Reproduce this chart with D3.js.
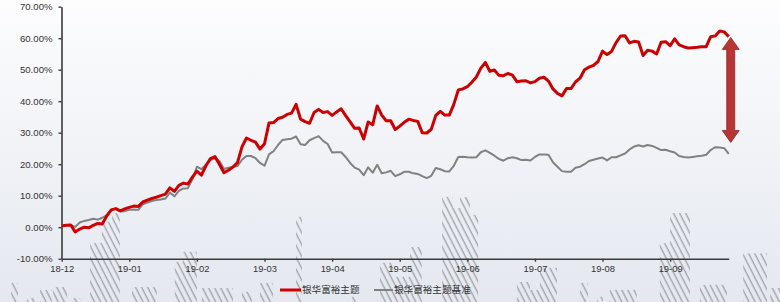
<!DOCTYPE html>
<html><head><meta charset="utf-8">
<script src="https://cdn.jsdelivr.net/npm/d3@7"></script>
<style>
html,body{margin:0;padding:0;background:#fff;}
svg{display:block;font-family:"Liberation Sans",Arial,sans-serif;}
</style></head>
<body><svg id="c" width="780" height="302"></svg>
<script>
// ---- data ----
const monthLabels = ["18-12","19-01","19-02","19-03","19-04","19-05","19-06","19-07","19-08","19-09"];
const pointsPerMonth = 15;
const seriesNames = ["银华富裕主题","银华富裕主题基准"];
const fundValues = [0.4,0.6,0.7,-1.5,-0.6,0.0,-0.2,0.6,1.2,1.0,3.6,5.5,5.9,5.2,5.8,6.3,6.7,6.6,8.0,8.6,
 9.1,9.5,10.0,10.5,12.5,11.4,13.3,14.0,13.7,15.9,17.8,16.5,19.5,21.8,22.4,20.0,17.3,18.1,19.1,20.5,
 25.5,28.3,27.6,27.0,24.8,26.5,33.1,33.2,34.5,34.9,35.8,36.2,39.0,34.3,33.5,33.0,36.4,37.4,36.4,36.7,
 35.5,36.6,37.6,35.4,33.4,31.4,31.5,28.0,33.4,32.5,38.5,35.6,33.8,33.8,31.0,32.1,33.3,34.3,33.9,33.6,
 30.0,29.9,31.1,35.5,36.8,35.6,35.6,39.0,43.6,43.9,44.6,46.0,47.7,50.5,52.3,49.5,49.9,48.2,48.1,48.8,
 48.3,46.2,46.4,46.5,45.8,46.2,47.3,47.6,46.4,43.9,42.5,41.7,44.0,44.0,46.1,47.3,50.0,50.8,51.4,52.6,
 55.9,54.8,55.8,58.6,60.7,60.8,58.5,59.0,58.8,54.5,56.2,55.9,55.0,58.7,58.9,57.6,59.8,57.9,57.3,56.9,
 57.0,57.1,57.3,57.3,60.5,60.7,62.3,62.0,60.5];
const benchValues = [0.4,0.6,0.7,0.1,1.5,2.0,2.3,2.7,2.4,3.0,3.8,5.5,5.9,5.0,5.1,5.5,5.6,5.5,7.3,7.8,
 8.3,8.6,8.8,9.1,11.0,9.8,11.5,12.3,12.4,15.2,19.2,18.4,19.8,21.3,21.9,21.0,18.5,18.9,19.1,19.4,
 21.4,22.6,22.6,21.9,20.4,19.5,23.1,24.1,26.1,27.7,27.9,28.1,28.8,26.3,26.1,27.6,28.3,28.9,27.4,26.4,
 23.7,23.8,23.8,22.3,20.4,18.9,18.3,16.5,19.0,17.3,19.8,17.1,17.4,17.9,16.2,16.8,17.6,17.6,17.1,16.9,
 16.2,15.6,16.3,18.8,18.4,17.8,17.7,19.5,22.3,22.4,22.2,22.1,22.2,23.8,24.4,23.6,22.7,21.7,21.1,21.9,
 22.2,21.9,21.3,21.4,21.2,22.3,23.1,23.1,23.0,20.6,19.2,17.8,17.6,17.6,18.9,19.2,20.0,21.0,21.4,21.8,
 22.1,21.2,22.2,22.2,22.8,23.4,24.7,25.6,26.0,25.6,26.1,25.8,25.2,24.5,24.6,24.1,23.7,22.6,22.3,22.1,
 22.3,22.5,22.7,23.0,24.5,25.4,25.3,25.1,23.3];
const yTicks = [-10,0,10,20,30,40,50,60,70];
// background hatched columns (decoration): start, end (x index units), top (% units)
const barStart = [-11.2,-7.7,-4.8,-1.9,2.5,6.3,8.9,11.2,15.6,25.1,26.9,31.1,40.0,44.0,52.0,64.0,70.6,73.5,77.3,84.4,86.8,88.4,90.6,101.0,103.9,106.1,115.0,118.8,121.6,132.7,135.0,141.6,151.2,157.2];
const barEnd   = [-9.7,-5.5,-2.2,1.2,4.1,8.9,11.2,12.9,21.1,26.9,30.0,38.0,42.2,46.9,53.3,65.5,73.5,77.3,79.9,86.8,88.4,90.6,92.4,103.9,106.1,109.9,116.8,120.1,127.6,135.0,139.4,147.6,156.5,159.4];
const barTop   = [-17.7,-22.5,-19.9,-19.0,-22.5,-5.0,1.7,4.5,-19.0,-11.0,-7.8,-19.3,-20.5,-17.7,3.3,-22.1,-11.3,-15.8,-6.3,9.6,6.1,9.6,3.9,-17.4,-19.9,-12.9,-17.7,-22.1,-19.9,-5.0,4.5,-18.3,-8.3,-19.3];
const arrowFromTo = [60.25, 26.9];

// ---- chart ----
const svg = d3.select("#c");
const W = 780, H = 302;
const n = fundValues.length;
const x = d3.scaleLinear().domain([0, n - 1]).range([61.7, 61.7 + (n - 1) * 4.507]);
const y = d3.scaleLinear().domain([-10, 70]).range([258.7, 6.7]);

const defs = svg.append("defs");
const grad = defs.append("linearGradient").attr("id","bg").attr("x1",0).attr("y1",0).attr("x2",0).attr("y2",1);
grad.append("stop").attr("offset","0%").attr("stop-color","#fdfdfe");
grad.append("stop").attr("offset","100%").attr("stop-color","#e4e8ef");
const pat = defs.append("pattern").attr("id","hatch").attr("patternUnits","userSpaceOnUse")
  .attr("width",5.4).attr("height",10).attr("patternTransform","rotate(-27)");
pat.append("line").attr("x1",1.2).attr("y1",0).attr("x2",1.2).attr("y2",10)
  .attr("stroke","#9a9da3").attr("stroke-width",1.4);

svg.append("rect").attr("width",W).attr("height",H).attr("fill","url(#bg)");

// hatched decoration
svg.append("g").selectAll("rect").data(barTop).join("rect")
  .attr("x",(d,i)=>x(barStart[i]))
  .attr("width",(d,i)=>x(barEnd[i])-x(barStart[i]))
  .attr("y",d=>y(d))
  .attr("height",d=>H - y(d) + 2)
  .attr("fill","url(#hatch)").attr("opacity",0.9);

// axes
const yAxis = d3.axisLeft(y).tickValues(yTicks).tickSize(3).tickSizeOuter(0).tickPadding(6)
  .tickFormat(d=>d.toFixed(2)+"%");
const gy = svg.append("g").attr("transform",`translate(${x(0)-0.2},0)`).call(yAxis);
gy.select(".domain").attr("stroke","#3a3a3a").attr("stroke-width",1.6);
gy.selectAll(".tick line").attr("stroke","#3a3a3a").attr("stroke-width",1.4);
gy.selectAll("text").attr("font-size",9.6).attr("fill","#333");

const xTickVals = monthLabels.map((m,i)=>i*pointsPerMonth);
const xAxis = d3.axisBottom(x).tickValues(xTickVals).tickSize(3).tickSizeOuter(0).tickPadding(4)
  .tickFormat((d,i)=>monthLabels[i]);
const gx = svg.append("g").attr("transform",`translate(0,${y(-10)})`).call(xAxis);
gx.select(".domain").attr("stroke","#3a3a3a").attr("stroke-width",1.6);
gx.selectAll(".tick line").attr("stroke","#3a3a3a").attr("stroke-width",1.4);
gx.selectAll("text").attr("font-size",9.4).attr("fill","#333");

// lines
const line = d3.line().x((d,i)=>x(i)).y(d=>y(d)).curve(d3.curveLinear);
svg.append("path").datum(benchValues).attr("d",line).attr("fill","none")
  .attr("stroke","#818181").attr("stroke-width",2).attr("stroke-linejoin","round");
svg.append("path").datum(fundValues).attr("d",line).attr("fill","none")
  .attr("stroke","#cc0000").attr("stroke-width",3).attr("stroke-linejoin","round");

// double arrow annotation
const ax = x(n - 1) + 2;
const yT = y(arrowFromTo[0]), yB = y(arrowFromTo[1]);
const hw = 8.5, sw = 4, hh = 12;
const pts = [[ax,yT],[ax+hw,yT+hh],[ax+sw,yT+hh],[ax+sw,yB-hh],[ax+hw,yB-hh],[ax,yB],
  [ax-hw,yB-hh],[ax-sw,yB-hh],[ax-sw,yT+hh],[ax-hw,yT+hh]];
svg.append("path").attr("d","M"+pts.map(p=>p.join(",")).join("L")+"Z")
  .attr("fill","#b83535").attr("stroke","#962525").attr("stroke-width",0.8);

// legend
const lg = svg.append("g").attr("font-family",'"Noto Sans CJK SC","Liberation Sans",sans-serif')
  .attr("font-size",9.6).attr("fill","#333");
const legendItems = [
  {name:seriesNames[0], color:"#cc0000", w:3, x0:280, x1:301, tx:302},
  {name:seriesNames[1], color:"#818181", w:2, x0:374, x1:393, tx:394}
];
legendItems.forEach(it=>{
  lg.append("line").attr("x1",it.x0).attr("x2",it.x1).attr("y1",290).attr("y2",290)
    .attr("stroke",it.color).attr("stroke-width",it.w);
  lg.append("text").attr("x",it.tx).attr("y",290).attr("dy","0.35em").text(it.name);
});
</script></body></html>
